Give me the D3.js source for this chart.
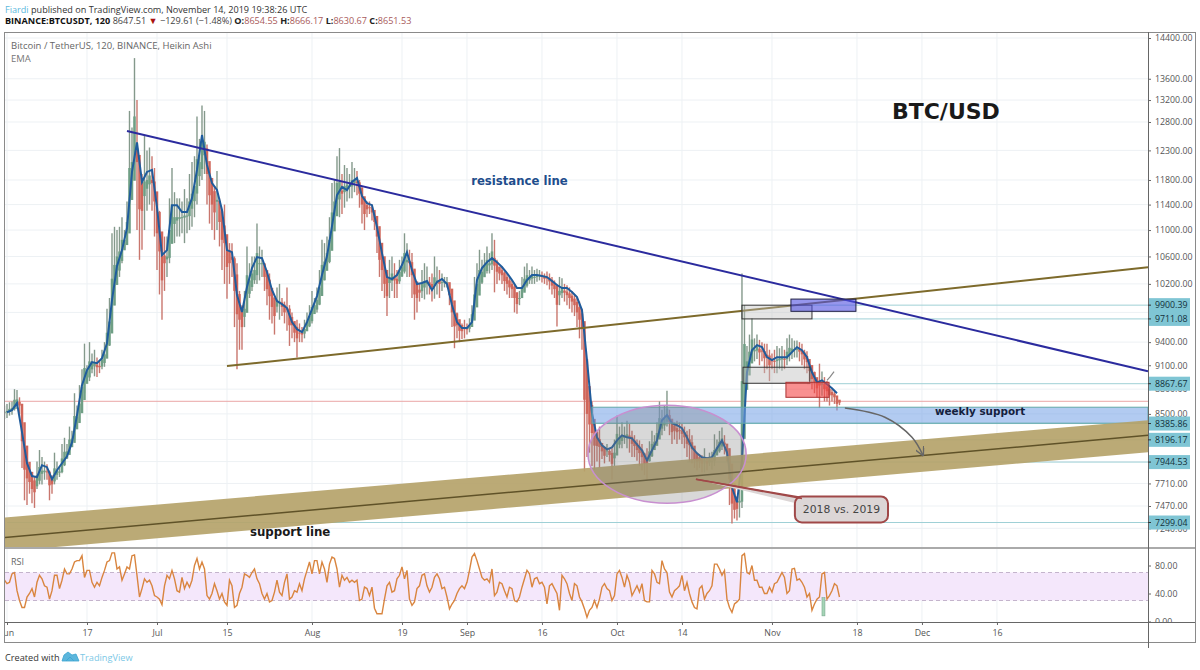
<!DOCTYPE html>
<html>
<head>
<meta charset="utf-8">
<script src="https://cdnjs.cloudflare.com/ajax/libs/d3/7.8.5/d3.min.js"></script>
<style>
  body { margin: 0; background: #fff; }
  text { font-family: "Open Sans", sans-serif; }
  .note { font-family: "DejaVu Sans", sans-serif; font-weight: bold; }
</style>
</head>
<body>
<div id="chart"></div>
<script>
// candles are one every 12 hours from this date, ema is one per day from emaStart
var candleStart = "2019-05-31T12:00:00Z";
var emaStart = "2019-06-01T00:00:00Z";

var candleHigh = [8600,8620,8640,8650,8800,8790,8700,8480,8190,8050,7850,7800,7780,7950,8080,8000,7950,7920,7850,7800,8050,7950,7900,8150,8220,8150,8350,8300,8750,8600,8850,9050,9380,9100,9400,9250,9300,9200,9150,9300,9400,9850,10000,10950,11050,11000,11050,11200,11000,11450,13000,12700,14000,13200,12100,11900,12550,12300,12350,12200,12000,11500,11300,10800,10900,10900,11500,12000,11600,11500,11500,11450,11650,11500,11900,12100,12200,12900,12500,13100,13000,12400,12000,11800,11700,11950,11500,11300,11400,10900,10800,10800,10600,10500,10100,9900,10100,10750,10500,10600,10600,11100,10750,10700,10500,10350,10350,10100,10000,10150,10200,10000,9950,10150,9900,9800,9650,9700,9650,9600,9700,9800,9900,10100,10000,10150,10400,10850,10800,10900,11200,11750,11800,12200,12340,11900,12050,12000,11900,12100,12000,11950,11800,11700,11500,11450,11450,11400,11250,11150,10800,10700,10400,10300,10550,10600,10500,10400,10550,10600,10950,10800,10700,10650,10400,10200,10200,10400,10500,10450,10300,10350,10600,10450,10400,10350,10300,10300,10180,10000,9900,9800,9700,9650,9700,9650,9720,9900,10300,10500,10700,10550,10650,10750,10650,10950,10850,10550,10450,10450,10380,10350,10300,10250,10200,10050,10100,10300,10450,10500,10400,10450,10400,10420,10400,10380,10350,10380,10350,10300,10250,10200,10300,10280,10200,10180,10150,10100,10050,10000,9950,9850,9500,9000,8700,8650,8400,8300,8350,8150,8100,8150,8100,8100,8200,8480,8350,8400,8350,8420,8380,8300,8250,8200,8190,8150,8050,8100,8180,8300,8250,8400,8650,8550,8600,8780,8550,8420,8400,8420,8400,8380,8350,8300,8320,8250,8050,8050,8030,8020,8100,8000,8050,8060,8260,8200,8300,8340,8250,8150,8030,7700,7520,7560,7700,10350,9900,9350,9500,9720,9450,9500,9430,9400,9380,9380,9300,9250,9300,9350,9320,9350,9300,9450,9500,9450,9420,9420,9400,9380,9300,9280,9150,9050,9020,8920,9120,9020,8950,8900,8850,8800,8780,8700,8666];
var candleLow = [8440,8450,8480,8490,8540,8560,8500,7880,7530,7480,7600,7500,7450,7650,7700,7700,7750,7750,7530,7600,7700,7750,7780,7820,7900,7980,8050,8120,8200,8330,8400,8600,8750,8950,8900,9000,8960,8950,9000,9050,9080,9200,9350,9600,9900,10200,10300,10500,10700,10800,11000,11500,11800,11000,10550,10700,11000,11300,11400,11300,10900,10400,10050,9700,10100,10300,10500,10800,10800,10900,10900,10950,10800,10950,11000,11050,11200,11400,11700,11800,11900,11400,11100,11000,10850,11000,10750,10400,10200,9990,10200,10300,9600,9050,9300,9300,9600,9900,10000,10100,10200,10200,10250,10300,10100,9900,9700,9650,9500,9800,9700,9750,9650,9550,9350,9450,9400,9200,9400,9400,9450,9550,9600,9650,9800,9800,9900,10100,10250,10400,10500,10800,11100,11300,11200,11250,11350,11450,11500,11500,11600,11550,11350,11100,11000,11200,11250,11150,11000,10650,10300,10100,10000,9750,10000,10100,10000,10000,10200,10300,10350,10300,10300,10000,9700,9800,9950,10000,9980,10050,10050,9950,9990,10050,10000,10100,10150,10150,9900,9600,9320,9450,9400,9440,9450,9500,9530,9650,9800,9900,10100,10200,10300,10350,10350,10400,10080,10200,10250,10200,10100,10050,10000,10000,9800,9780,9900,10000,10100,10150,10200,10200,10200,10230,10250,10220,10200,10180,10120,10050,10000,9610,9900,10000,9950,9900,9850,9800,9750,9600,9450,9300,7840,8000,8050,7900,7860,7950,7880,7980,7930,8000,7950,7750,7900,8050,8100,8100,8150,8100,8050,8000,8000,7960,7900,7850,7800,7750,7950,8000,8100,8150,8250,8250,8300,8350,8250,8150,8200,8150,8200,8150,8100,8000,7950,7930,7880,7850,7880,7830,7830,7850,7900,7860,7900,8020,8050,8080,8030,7950,7480,7290,7340,7320,7350,7450,8850,8950,9050,9150,9150,9180,9100,9150,9000,9050,8900,9050,9000,9000,9050,9030,9050,9100,9150,9180,9200,9200,9150,9100,9050,9000,8900,8800,8750,8700,8570,8720,8650,8650,8600,8650,8620,8540,8605];

var emaValues = [8520,8545,8630,8285,7932,7790,7778,7910,7888,7756,7855,7932,8010,8167,8485,8850,9037,9140,9127,9191,9386,9970,10458,10695,11031,11934,12438,11767,11934,11968,11360,10620,10695,11391,11391,11281,11281,11503,11968,12568,12051,11750,11635,11313,10695,10665,10041,9805,10156,10429,10590,10575,10371,10113,9956,9915,9860,9668,9573,9533,9668,9846,10027,10328,10605,11062,11552,11685,11635,11767,11833,11536,11423,11391,11047,10650,10298,10270,10328,10473,10665,10400,10198,10212,10241,10113,10226,10270,10198,9901,9668,9587,9587,9668,10255,10429,10516,10575,10516,10444,10356,10255,10141,10141,10255,10328,10328,10313,10298,10241,10184,10141,10141,10084,10013,9832,9165,8509,8225,8133,8088,8110,8190,8248,8225,8213,8145,8077,7965,8077,8190,8425,8485,8390,8366,8331,8225,8110,8043,7999,7988,7999,8099,8190,8055,7669,7509,7965,9011,9295,9360,9334,9204,9165,9204,9204,9204,9269,9334,9295,9204,9011,8885,8910,8861,8812,8750];

// rsi is on the same 12 hour steps as the candles
var rsiValues = [59,54,56,68,70,44,30,20,20,35,40,47,35,56,66,61,51,49,32,44,66,66,47,59,75,68,68,75,85,87,87,94,63,73,73,56,49,56,51,63,73,85,87,98,98,75,78,59,68,78,75,94,95,66,35,47,61,56,59,51,37,35,32,24,51,66,61,73,61,44,42,63,47,56,49,59,80,90,75,85,75,37,32,40,54,44,32,40,28,23,59,51,20,23,40,49,68,66,63,70,75,61,54,40,32,40,28,30,42,59,42,37,56,68,32,35,44,42,54,44,61,73,85,68,87,87,68,85,75,56,82,92,90,75,49,66,59,63,56,59,56,59,30,32,49,47,37,49,19,11,11,11,32,51,56,42,44,61,66,78,61,73,32,23,28,47,51,66,68,51,42,49,63,68,61,47,49,35,18,25,30,40,47,51,47,56,73,92,97,87,75,63,59,61,56,75,37,42,56,54,44,35,49,47,30,28,35,49,61,73,68,49,61,63,54,56,49,25,51,54,47,40,16,66,61,54,40,30,54,51,35,28,18,6,16,20,30,20,32,49,54,47,44,30,37,68,73,63,49,66,56,37,44,51,42,54,30,28,28,73,68,56,54,87,75,70,42,35,44,47,51,66,44,56,40,28,20,18,47,51,32,40,44,51,82,82,75,66,73,32,20,13,25,28,32,94,97,70,68,80,59,59,49,49,40,40,49,42,54,56,63,70,63,40,44,75,76,59,61,56,49,35,40,16,25,32,35,68,70,32,37,44,54,51,35];

var priceTicks = [14400,13600,13200,12800,12300,11800,11400,11000,10600,10200,9400,9100,8800,8500,7710,7470,7240];
var gridOnlyTicks = [9800,8200,7950]; // these labels are fully behind the price tags
var rsiTicks = [80,40,0];
var timeTicks = ["2019-06-01","2019-06-17","2019-07-01","2019-07-15","2019-08-01","2019-08-19","2019-09-01","2019-09-16","2019-10-01","2019-10-14","2019-11-01","2019-11-18","2019-12-01","2019-12-16"];
var timeLabels = ["Jun","17","Jul","15","Aug","19","Sep","16","Oct","14","Nov","18","Dec","16"];

var levelPrices = [9900.39,9711.08,8867.67,8385.86,8196.17,7944.53,7299.04];
var levelStarts = ["2019-11-09","2019-11-09","2019-11-08","2019-09-26","2019-12-01","2019-10-15","2019-06-01"];

var lastClose = 8651.53;
var chartEnd = "2020-01-15T05:00:00Z";
var chartLeft = "2019-05-31T14:00:00Z";

var resistDates = ["2019-06-25", chartEnd], resistPrices = [12640, 9025];
var upperDates = ["2019-07-15", chartEnd], upperPrices = [9090, 10440];
var bandDates = [chartLeft, chartEnd];
var bandTop = [7350, 8425], bandMid = [7148, 8248], bandBottom = [7009, 8055];
var arrowDates = ["2019-11-15T14:00:00Z","2019-11-23T14:00:00Z","2019-11-29T00:00:00Z","2019-12-01T05:00:00Z"];
var arrowPrices = [8570, 8460, 8225, 8020];
var zigDates = ["2019-11-12T00:00:00Z","2019-11-12T14:00:00Z","2019-11-13T10:00:00Z"];
var zigPrices = [8910, 8950, 9020];

// boxes drawn on the chart: from, to, top price, bottom price
var boxNames = ["grayHigh","grayLow","red","blue"];
var boxFrom = ["2019-10-26","2019-10-26T05:00:00Z","2019-11-03T19:00:00Z","2019-11-04T19:00:00Z"];
var boxTo = ["2019-11-09","2019-11-08T14:00:00Z","2019-11-12T10:00:00Z","2019-11-17T19:00:00Z"];
var boxTop = [9900, 9075, 8885, 9985];
var boxBottom = [9711, 8873, 8700, 9815];
var boxFill = ["rgba(190,190,190,.4)","rgba(190,190,190,.45)","rgba(245,70,70,.6)","rgba(80,80,225,.6)"];
var boxStroke = ["#333","#333","#a33","#224"];

var parse = function(s) { return d3.isoParse(s.length == 10 ? s + "T00:00:00Z" : s); };
var DAY = 86400000;

var xScale = d3.scaleUtc().domain([parse(emaStart), parse(chartEnd)]).range([7, 1148]);
var yScale = d3.scaleLog().domain([7470, 14400]).range([506, 38]);
var rsiScale = d3.scaleLinear().domain([0, 100]).range([621.5, 551.5]);

var svg = d3.select("#chart").append("svg").attr("width", 1200).attr("height", 670);

var defs = svg.append("defs");
defs.append("clipPath").attr("id", "mainClip").append("rect")
    .attr("x", 5).attr("y", 33).attr("width", 1143).attr("height", 515);
defs.append("clipPath").attr("id", "rsiClip").append("rect")
    .attr("x", 5).attr("y", 549).attr("width", 1143).attr("height", 73);
defs.append("clipPath").attr("id", "timeClip").append("rect")
    .attr("x", 5).attr("y", 622).attr("width", 1143).attr("height", 20);
defs.append("clipPath").attr("id", "rsiAxisClip").append("rect")
    .attr("x", 1148).attr("y", 549).attr("width", 48).attr("height", 73);
defs.append("marker").attr("id", "arrowHead").attr("viewBox", "0 0 10 10")
    .attr("refX", 9).attr("refY", 5).attr("markerWidth", 9).attr("markerHeight", 9)
    .attr("orient", "auto-start-reverse").attr("markerUnits", "userSpaceOnUse")
    .append("path").attr("d", "M0,0L10,5L0,10").attr("fill", "none").attr("stroke", "#666").attr("stroke-width", 1.5);

// grid
var grid = svg.append("g").attr("stroke", "#edf1f4").attr("stroke-width", 1);
grid.selectAll(".gy").data(priceTicks.concat(gridOnlyTicks)).enter().append("line")
    .attr("x1", 5).attr("x2", 1148)
    .attr("y1", d => yScale(d)).attr("y2", d => yScale(d));
grid.selectAll(".gx").data(timeTicks).enter().append("line")
    .attr("y1", 33).attr("y2", 622)
    .attr("x1", d => xScale(parse(d))).attr("x2", d => xScale(parse(d)));

var main = svg.append("g").attr("clip-path", "url(#mainClip)");

// level lines and the last close sit under everything
main.selectAll(".level").data(levelPrices).enter().append("line")
    .attr("x1", (d, i) => xScale(parse(levelStarts[i]))).attr("x2", 1148)
    .attr("y1", d => yScale(d)).attr("y2", d => yScale(d))
    .attr("stroke", "#9fd0d6").attr("stroke-width", 1);
main.append("line")
    .attr("x1", 5).attr("x2", 1148)
    .attr("y1", yScale(lastClose)).attr("y2", yScale(lastClose))
    .attr("stroke", "#eaa5a5").attr("stroke-width", 1);

// heikin ashi style candles, open comes from the previous candle
var t0 = parse(candleStart).getTime();
var candles = [];
candleHigh.forEach(function(h, i) {
    var close = (h + candleLow[i]) / 2;
    var open = i == 0 ? close : (candles[i-1].open + candles[i-1].close) / 2;
    candles.push({date: new Date(t0 + i * DAY / 2), high: h, low: candleLow[i], open: open, close: close});
});
var candleColor = d => d.close >= d.open ? "#6f9f85" : "#d0665a";
var wickColor = d => d.close >= d.open ? "#84998b" : "#c9766d";

main.selectAll(".wick").data(candles).enter().append("line")
    .attr("x1", d => xScale(d.date)).attr("x2", d => xScale(d.date))
    .attr("y1", d => yScale(d.high)).attr("y2", d => yScale(d.low))
    .attr("stroke", wickColor).attr("stroke-width", 1.4);
main.selectAll(".body").data(candles).enter().append("rect")
    .attr("x", d => xScale(d.date) - 1.25)
    .attr("width", 2.5)
    .attr("y", d => yScale(Math.max(d.open, d.close)))
    .attr("height", d => Math.max(1, Math.abs(yScale(d.open) - yScale(d.close))))
    .attr("fill", candleColor);

// ema
var e0 = parse(emaStart).getTime();
var emaLine = d3.line().x((d, i) => xScale(new Date(e0 + i * DAY))).y(d => yScale(d));
main.append("path").datum(emaValues).attr("d", emaLine)
    .attr("fill", "none").attr("stroke", "#1f5c9c").attr("stroke-width", 2);

// weekly support
main.append("rect")
    .attr("x", xScale(parse("2019-09-26"))).attr("width", 1148 - xScale(parse("2019-09-26")))
    .attr("y", yScale(8580)).attr("height", yScale(8390) - yScale(8580))
    .attr("fill", "rgba(115,160,230,.55)").attr("stroke", "#63a9a9").attr("stroke-width", 1);

// support channel
var bandRows = bandDates.map((d, i) => ({date: parse(d), top: bandTop[i], mid: bandMid[i], bottom: bandBottom[i]}));
var bandArea = d3.area().x(d => xScale(d.date)).y0(d => yScale(d.bottom)).y1(d => yScale(d.top));
main.append("path").datum(bandRows).attr("d", bandArea)
    .attr("fill", "#b5a36a").attr("fill-opacity", 0.92);
main.append("path").datum(bandRows)
    .attr("d", d3.line().x(d => xScale(d.date)).y(d => yScale(d.mid)))
    .attr("fill", "none").attr("stroke", "#5f5228").attr("stroke-width", 1.5);

// trend lines
function trend(dates, prices, color) {
    var pts = dates.map((d, i) => [xScale(parse(d)), yScale(prices[i])]);
    main.append("path").attr("d", d3.line()(pts))
        .attr("fill", "none").attr("stroke", color).attr("stroke-width", 2);
}
trend(upperDates, upperPrices, "#7d6a2b");
trend(resistDates, resistPrices, "#2b2b9e");

// boxes
boxNames.forEach(function(name, i) {
    var x0 = xScale(parse(boxFrom[i])), x1 = xScale(parse(boxTo[i]));
    main.append("rect").attr("class", name)
        .attr("x", x0).attr("width", x1 - x0)
        .attr("y", yScale(boxTop[i])).attr("height", yScale(boxBottom[i]) - yScale(boxTop[i]))
        .attr("fill", boxFill[i]).attr("stroke", boxStroke[i]).attr("stroke-width", 1);
});

// ellipse
var ex0 = xScale(parse("2019-09-25T05:00:00Z")), ex1 = xScale(parse("2019-10-26T20:00:00Z"));
var ey0 = yScale(8605), ey1 = yScale(7500);
main.append("ellipse")
    .attr("cx", (ex0 + ex1) / 2).attr("cy", (ey0 + ey1) / 2)
    .attr("rx", (ex1 - ex0) / 2).attr("ry", (ey1 - ey0) / 2)
    .attr("fill", "rgba(125,125,125,.3)").attr("stroke", "#c88fd0").attr("stroke-width", 1.5);

// curved arrow and little zigzag
var arrowPts = arrowDates.map((d, i) => [xScale(parse(d)), yScale(arrowPrices[i])]);
main.append("path").attr("d", d3.line().curve(d3.curveCatmullRom)(arrowPts))
    .attr("fill", "none").attr("stroke", "#666").attr("stroke-width", 1.5)
    .attr("marker-end", "url(#arrowHead)");
var zigPts = zigDates.map((d, i) => [xScale(parse(d)), yScale(zigPrices[i])]);
main.append("path").attr("d", d3.line()(zigPts))
    .attr("fill", "none").attr("stroke", "#888").attr("stroke-width", 1.2);

// callout
var cx0 = xScale(parse("2019-11-05T14:00:00Z")), cx1 = xScale(parse("2019-11-24T05:00:00Z"));
var cy0 = yScale(7570), cy1 = yScale(7300);
var tip = [xScale(parse("2019-10-16T19:00:00Z")), yScale(7755)];
main.append("path")
    .attr("d", d3.line()([tip, [xScale(parse("2019-11-07T00:00:00Z")), cy0 + 1], [cx0 + 1, yScale(7500)]]))
    .attr("fill", "#dcd6d6").attr("stroke", "#a04848").attr("stroke-width", 1.5);
main.append("rect")
    .attr("x", cx0).attr("y", cy0).attr("width", cx1 - cx0).attr("height", cy1 - cy0)
    .attr("rx", 7).attr("fill", "#dcd6d6").attr("stroke", "#a04848").attr("stroke-width", 2);
main.append("path")
    .attr("d", d3.line()([tip, [xScale(parse("2019-11-07T00:00:00Z")), cy0 + 2]]))
    .attr("fill", "none").attr("stroke", "#a04848").attr("stroke-width", 1.5);
main.append("text").attr("class", "note")
    .attr("x", (cx0 + cx1) / 2).attr("y", (cy0 + cy1) / 2 + 4)
    .attr("text-anchor", "middle").attr("font-size", 10.8)
    .style("font-weight", "normal").attr("fill", "#444")
    .text("2018 vs. 2019");

// notes
function note(date, price, txt, size, color) {
    svg.append("text").attr("class", "note")
        .attr("x", xScale(parse(date))).attr("y", yScale(price))
        .attr("font-size", size).attr("fill", color).text(txt);
}
note("2019-09-01T20:00:00Z", 11715, "resistance line", 11.7, "#1e4d8c");
note("2019-07-19T14:00:00Z", 7160, "support line", 11.8, "#1a1a1a");
note("2019-12-03T14:00:00Z", 8485, "weekly support", 10.4, "#14213d");
note("2019-11-25T00:00:00Z", 12850, "BTC/USD", 22, "#1a1a1a");

// rsi pane
var rsiPane = svg.append("g").attr("clip-path", "url(#rsiClip)");
rsiPane.append("rect")
    .attr("x", 5).attr("width", 1143)
    .attr("y", rsiScale(70)).attr("height", rsiScale(30) - rsiScale(70))
    .attr("fill", "#f4e7fb");
rsiPane.selectAll(".rsiDash").data([70, 30]).enter().append("line")
    .attr("x1", 5).attr("x2", 1148)
    .attr("y1", d => rsiScale(d)).attr("y2", d => rsiScale(d))
    .attr("stroke", "#c4b4cc").attr("stroke-width", 1).attr("stroke-dasharray", "4,3");
var rsiLine = d3.line().x((d, i) => xScale(new Date(t0 + i * DAY / 2))).y(d => rsiScale(d));
rsiPane.append("path").datum(rsiValues).attr("d", rsiLine)
    .attr("fill", "none").attr("stroke", "#d9853f").attr("stroke-width", 1.4);
var barX0 = xScale(parse("2019-11-11T00:00:00Z"));
rsiPane.append("rect")
    .attr("x", barX0).attr("width", 3)
    .attr("y", rsiScale(34)).attr("height", rsiScale(8) - rsiScale(34))
    .attr("fill", "#a5d4b6").attr("stroke", "#6f9f85").attr("stroke-width", 0.5);
svg.append("text").attr("x", 11).attr("y", 565).attr("font-size", 9).attr("fill", "#666").text("RSI");

// frame and pane separators
svg.append("rect").attr("x", 4.5).attr("y", 32.5).attr("width", 1191).attr("height", 610)
    .attr("fill", "none").attr("stroke", "#8a8a8a");
svg.append("line").attr("x1", 5).attr("x2", 1195).attr("y1", 548).attr("y2", 548)
    .attr("stroke", "#aaa").attr("stroke-width", 2);
svg.append("line").attr("x1", 5).attr("x2", 1195).attr("y1", 622.5).attr("y2", 622.5)
    .attr("stroke", "#666");
svg.append("line").attr("x1", 1148.5).attr("x2", 1148.5).attr("y1", 32).attr("y2", 648)
    .attr("stroke", "#666");

// axes
var yAxis = d3.axisRight(yScale).tickValues(priceTicks).tickFormat(d3.format(".2f")).tickSize(3).tickPadding(4);
var gy = svg.append("g").attr("transform", "translate(1148,0)").call(yAxis);
var rsiAxis = d3.axisRight(rsiScale).tickValues(rsiTicks).tickFormat(d3.format(".2f")).tickSize(3).tickPadding(4);
var gr = svg.append("g").attr("clip-path", "url(#rsiAxisClip)")
    .append("g").attr("transform", "translate(1148,0)").call(rsiAxis);
var xAxis = d3.axisBottom(xScale).tickValues(timeTicks.map(parse))
    .tickFormat((d, i) => timeLabels[i]).tickSize(3).tickPadding(5);
var gx = svg.append("g").attr("clip-path", "url(#timeClip)")
    .append("g").attr("transform", "translate(0,622)").call(xAxis);
[gy, gr, gx].forEach(function(g) {
    g.select(".domain").remove();
    g.selectAll("line").attr("stroke", "#666");
    g.selectAll("text").attr("fill", "#555").attr("font-size", 8.8)
        .style("font-family", "'Open Sans', sans-serif");
});

// price labels
var tags = svg.append("g").selectAll("g").data(levelPrices).enter().append("g")
    .attr("transform", d => "translate(1148," + yScale(d) + ")");
tags.append("rect").attr("x", 1).attr("y", -7).attr("width", 41).attr("height", 14).attr("fill", "#7fc5d4");
tags.append("line").attr("x1", 0).attr("x2", 3).attr("stroke", "#333");
tags.append("text").attr("x", 7).attr("y", 3.2).attr("font-size", 8.8).attr("fill", "#12303a")
    .text(d => d3.format(".2f")(d));

// header
var head1 = svg.append("text").attr("x", 5).attr("y", 13).attr("font-size", 9.1).attr("fill", "#333");
head1.append("tspan").attr("fill", "#5bb8dd").text("Fiardi");
head1.append("tspan").text(" published on TradingView.com, November 14, 2019 19:38:26 UTC");

var head2 = svg.append("text").attr("x", 5).attr("y", 24).attr("font-size", 9.1).attr("fill", "#444");
head2.append("tspan").attr("font-weight", "bold").attr("fill", "#111").text("BINANCE:BTCUSDT, 120");
head2.append("tspan").text(" 8647.51 ");
head2.append("tspan").attr("fill", "#a11").text("\u25BC");
head2.append("tspan").text(" \u2212129.61 (\u22121.48%) ");
var ohlcKeys = ["O:","H:","L:","C:"], ohlcVals = ["8654.55","8666.17","8630.67","8651.53"];
ohlcKeys.forEach(function(k, i) {
    head2.append("tspan").attr("font-weight", "bold").attr("fill", "#222").text(k);
    head2.append("tspan").attr("fill", "#a85a5a").text(ohlcVals[i] + " ");
});

svg.append("text").attr("x", 11).attr("y", 49).attr("font-size", 9.5).attr("fill", "#666")
    .text("Bitcoin / TetherUS, 120, BINANCE, Heikin Ashi");
svg.append("text").attr("x", 11).attr("y", 62).attr("font-size", 9.5).attr("fill", "#777").text("EMA");

// footer
svg.append("text").attr("x", 5).attr("y", 661).attr("font-size", 9.2).attr("fill", "#333").text("Created with");
svg.append("path")
    .attr("d", "M62,661 L64,655 L68,652 L72,655 L76,654 L79,661 Z M66,661 L70,657 L74,661")
    .attr("fill", "#5cb6dc").attr("stroke", "#3aa5d2").attr("stroke-width", 0.8);
svg.append("text").attr("x", 80).attr("y", 661).attr("font-size", 9.2).attr("fill", "#7cc8e6").text("TradingView");
</script>
</body>
</html>
